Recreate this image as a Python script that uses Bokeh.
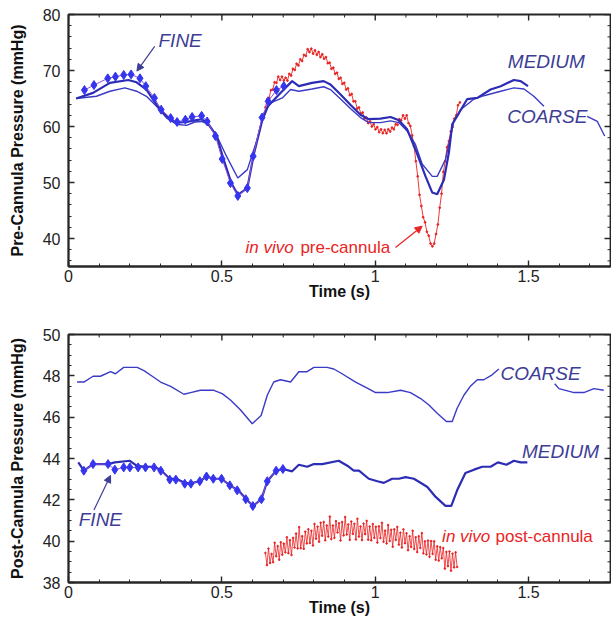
import numpy as np
from bokeh.plotting import figure
from bokeh.layouts import column
from bokeh.models import Range1d, FixedTicker, Label, Arrow, NormalHead
from bokeh.embed import file_html
from bokeh.resources import INLINE

nan = float("nan")

# ---------------- data: top panel (pre-cannula) ----------------
top_fine_t = [0.052, 0.083, 0.128, 0.153, 0.180, 0.204, 0.233, 0.252, 0.280, 0.302, 0.333, 0.354, 0.381,
              0.403, 0.434, 0.452, 0.479, 0.501, 0.528, 0.552, 0.583, 0.602, 0.631, 0.651, 0.678, 0.702]
top_fine_p = [66.5, 67.4, 68.6, 68.9, 69.2, 69.3, 68.6, 67.2, 65.1, 63.0, 61.5, 60.8, 61.2,
              61.7, 61.9, 60.9, 58.3, 54.2, 49.9, 47.6, 49.0, 54.7, 61.6, 64.5, 66.5, 67.2]

top_medium_t = [0.025, 0.080, 0.135, 0.195, 0.222, 0.254, 0.287, 0.320, 0.352, 0.385, 0.412, 0.434, 0.455,
                0.483, 0.504, 0.531, 0.552, 0.583, 0.604, 0.631, 0.650, 0.691, 0.729, 0.751, 0.794, 0.832,
                0.854, 0.887, 0.919, 0.952, 0.979, 1.017, 1.050, 1.077, 1.104, 1.131, 1.164, 1.186, 1.202,
                1.224, 1.240, 1.251, 1.273, 1.300, 1.333, 1.376, 1.409, 1.452, 1.474, 1.498]
top_medium_p = [65.0, 66.0, 67.8, 68.3, 67.9, 66.6, 63.9, 61.8, 60.7, 60.8, 61.1, 61.3, 60.5,
                58.3, 54.4, 49.9, 47.8, 49.0, 55.0, 61.0, 63.6, 66.0, 68.1, 67.2, 67.8, 68.1,
                67.5, 65.7, 63.9, 62.1, 61.3, 61.4, 61.7, 61.1, 59.5, 55.9, 51.1, 48.2, 47.9,
                50.5, 55.3, 60.4, 62.4, 64.9, 65.1, 66.6, 67.2, 68.3, 68.1, 67.2]

top_coarse_t = [0.025, 0.091, 0.135, 0.184, 0.222, 0.254, 0.287, 0.320, 0.352, 0.385, 0.412, 0.434, 0.455,
                0.483, 0.515, 0.552, 0.583, 0.615, 0.637, 0.659, 0.697, 0.724, 0.751, 0.794, 0.832, 0.854,
                0.887, 0.919, 0.952, 0.979, 1.017, 1.050, 1.077, 1.104, 1.131, 1.153, 1.186, 1.202, 1.229,
                1.246, 1.256, 1.278, 1.322, 1.354, 1.409, 1.452, 1.485, 1.517, 1.550, nan, 1.691, 1.724, 1.748]
top_coarse_p = [65.0, 65.4, 66.3, 66.9, 66.3, 65.4, 63.6, 61.5, 60.4, 60.2, 60.8, 60.9, 60.4,
                58.4, 54.7, 50.8, 52.3, 57.7, 62.4, 64.2, 65.1, 66.6, 66.3, 66.7, 67.1, 66.6,
                64.9, 63.2, 61.6, 60.7, 60.7, 61.0, 60.7, 59.2, 56.8, 53.3, 51.1, 51.1, 54.1,
                58.3, 60.9, 63.0, 64.9, 65.5, 66.3, 66.9, 66.7, 65.4, 63.6, nan, 61.8, 60.9, 58.3]

top_vivo_start, top_vivo_end = 0.642, 1.276
top_vivo_p = [63.4, 64.9, 65.1, 66.5, 66.6, 67.9, 67.8, 68.9, 68.3, 68.9, 68.2, 68.7, 68.2, 69.4, 69.1,
              70.3, 70.1, 71.2, 70.9, 72.0, 71.7, 72.8, 72.6, 73.8, 73.3, 73.9, 73.0, 73.6, 72.8, 73.3,
              72.4, 72.9, 72.1, 72.4, 71.3, 71.4, 70.3, 70.5, 69.4, 69.6, 68.5, 68.7, 67.6, 67.8, 66.6,
              66.8, 65.6, 65.8, 64.5, 64.5, 63.2, 63.4, 62.3, 62.5, 61.4, 61.6, 60.6, 60.9, 60.0, 60.4,
              59.5, 59.9, 59.0, 59.5, 58.8, 59.4, 58.8, 59.5, 59.1, 59.8, 59.5, 60.4, 60.3, 61.3, 61.1,
              62.0, 61.4, 62.0, 60.6, 60.1, 58.4, 56.5, 53.8, 51.1, 47.8, 45.8, 43.8, 42.9, 41.2, 40.5,
              39.1, 38.6, 39.1, 40.8, 42.5, 45.5, 48.0, 51.9, 53.8, 56.3, 57.4, 59.1, 59.9, 61.4, 62.0,
              63.8, 64.3]

# ---------------- data: bottom panel (post-cannula) ----------------
bot_fine_t = [0.050, 0.080, 0.129, 0.151, 0.180, 0.200, 0.227, 0.251, 0.279, 0.301, 0.330, 0.350, 0.379,
              0.399, 0.428, 0.450, 0.472, 0.499, 0.526, 0.550, 0.578, 0.601, 0.629, 0.648, 0.677, 0.699]
bot_fine_p = [43.41, 43.73, 43.73, 43.46, 43.57, 43.57, 43.57, 43.57, 43.57, 43.41, 42.98, 42.98, 42.78,
              42.78, 42.90, 43.13, 43.02, 43.02, 42.70, 42.46, 42.03, 41.70, 42.03, 42.90, 43.41, 43.49]

bot_medium_t = [0.032, 0.050, 0.080, 0.129, 0.151, 0.200, 0.222, 0.254, 0.281, 0.303, 0.330, 0.352, 0.379,
                0.401, 0.428, 0.450, 0.472, 0.499, 0.526, 0.553, 0.580, 0.601, 0.629, 0.648, 0.677, 0.699,
                0.729, 0.751, 0.778, 0.800, 0.827, 0.881, 0.909, 0.930, 0.947, 0.979, 1.007, 1.028, 1.055,
                1.077, 1.099, 1.126, 1.153, 1.170, 1.197, 1.229, 1.248, 1.267, 1.294, 1.322, 1.349, 1.376,
                1.400, 1.428, 1.452, 1.474, 1.496]
bot_medium_p = [43.81, 43.41, 43.73, 43.73, 43.81, 43.89, 43.65, 43.60, 43.60, 43.41, 43.02, 43.02, 42.81,
                42.81, 42.90, 43.13, 43.02, 43.02, 42.70, 42.46, 42.03, 41.70, 42.03, 42.90, 43.41, 43.49,
                43.38, 43.70, 43.60, 43.73, 43.73, 43.89, 43.65, 43.41, 43.41, 43.02, 42.90, 42.82, 43.02,
                43.02, 43.10, 43.02, 42.78, 42.62, 42.14, 41.71, 41.71, 42.46, 43.30, 43.46, 43.60, 43.60,
                43.81, 43.70, 43.89, 43.81, 43.81]

bot_coarse_t = [0.028, 0.050, 0.080, 0.104, 0.137, 0.153, 0.180, 0.224, 0.246, 0.273, 0.300, 0.333, 0.376,
                0.398, 0.430, 0.474, 0.501, 0.528, 0.561, 0.599, 0.628, 0.648, 0.669, 0.691, 0.724, 0.751,
                0.778, 0.800, 0.843, 0.865, 0.892, 0.936, 0.974, 1.001, 1.039, 1.083, 1.115, 1.148, 1.175,
                1.202, 1.232, 1.251, 1.267, 1.289, 1.311, 1.333, 1.354, 1.381, 1.403, nan, 1.585, 1.599,
                1.648, 1.680, 1.713, 1.745]
bot_coarse_p = [47.70, 47.70, 47.98, 47.98, 48.20, 48.10, 48.41, 48.41, 48.25, 47.98, 47.70, 47.49, 47.11,
                47.19, 47.30, 47.30, 47.14, 46.83, 46.35, 45.68, 46.08, 47.06, 47.70, 47.81, 47.70, 48.20,
                48.20, 48.41, 48.41, 48.33, 48.10, 47.70, 47.41, 47.19, 47.19, 47.30, 47.19, 46.90, 46.59,
                46.19, 45.79, 45.79, 46.43, 47.06, 47.51, 47.81, 47.81, 48.05, 48.33, nan, 47.62, 47.38,
                47.19, 47.19, 47.38, 47.30]

bot_vivo_start, bot_vivo_end = 0.642, 1.267
bot_vivo_p = [39.43, 38.84, 39.64, 38.94, 39.38, 38.98, 39.92, 39.27, 39.76, 39.10, 39.95, 39.34, 39.88,
              39.46, 40.19, 39.42, 40.05, 39.33, 40.16, 39.69, 40.37, 39.65, 40.68, 39.66, 40.24, 39.63,
              40.46, 39.89, 40.58, 39.91, 40.50, 39.79, 40.83, 40.12, 40.70, 39.97, 40.89, 40.26, 40.93,
              40.04, 40.76, 40.22, 41.19, 40.10, 40.76, 40.16, 40.97, 40.42, 40.87, 40.03, 40.93, 40.28,
              41.17, 40.32, 40.81, 40.06, 40.95, 40.35, 40.84, 40.08, 41.08, 40.22, 40.71, 40.05, 40.85,
              40.34, 40.98, 40.07, 40.71, 40.04, 40.83, 40.16, 40.70, 39.93, 40.72, 40.15, 40.89, 39.97,
              40.51, 39.89, 40.78, 40.01, 40.55, 39.73, 40.57, 40.06, 40.69, 39.83, 40.41, 39.69, 40.57,
              39.90, 40.38, 39.56, 40.24, 39.72, 40.50, 39.62, 40.19, 39.47, 40.24, 39.67, 40.39, 39.41,
              39.99, 39.36, 40.03, 39.24, 40.01, 39.38, 39.99, 39.10, 39.75, 39.06, 39.71, 39.17, 39.67,
              38.67, 39.48, 38.79, 39.50, 38.57, 39.39, 38.73, 39.46, 38.75]

x_major = [0, 0.5, 1, 1.5]
x_minor = [0.1, 0.2, 0.3, 0.4, 0.6, 0.7, 0.8, 0.9, 1.1, 1.2, 1.3, 1.4, 1.6, 1.7]
x_labels = {0: "0", 0.5: "0.5", 1: "1", 1.5: "1.5"}
top_y_major = [40, 50, 60, 70, 80]
top_y_minor = [36, 38, 42, 44, 46, 48, 52, 54, 56, 58, 62, 64, 66, 68, 72, 74, 76, 78]
bot_y_major = [38, 40, 42, 44, 46, 48, 50]
bot_y_minor = [38.5, 39, 39.5, 40.5, 41, 41.5, 42.5, 43, 43.5, 44.5, 45, 45.5, 46.5, 47, 47.5,
               48.5, 49, 49.5]

# ---------------- styling ----------------
FONT = "Liberation Sans"
C_LABEL = "#3d3d96"
C_MED = "#2c2cb4"
C_COARSE = "#3a3ac6"
C_FINE_M = "#3535f0"
C_FINE_L = "#9050d8"
C_RED = "#ea2323"
AX = "#262626"
X_END = 1.767


def style_axis(ax):
    ax.axis_line_color = AX
    ax.axis_line_width = 1.8
    ax.major_tick_in = 6
    ax.major_tick_out = 0
    ax.minor_tick_in = 3
    ax.minor_tick_out = 0
    ax.major_tick_line_color = AX
    ax.major_tick_line_width = 1.4
    ax.minor_tick_line_color = AX
    ax.minor_tick_line_width = 1
    ax.major_label_text_font = FONT
    ax.major_label_text_font_size = "16px"
    ax.major_label_text_color = "#222222"
    ax.axis_label_text_font = FONT
    ax.axis_label_text_font_size = "16px"
    ax.axis_label_text_font_style = "bold"
    ax.axis_label_text_color = "#111111"


def make_fig(y0, y1, y_major, y_minor, ylabel, height, top_border, bottom_border):
    p = figure(width=611, height=height,
               x_range=Range1d(0, X_END), y_range=Range1d(y0, y1),
               output_backend="svg", toolbar_location=None,
               min_border_left=68, min_border_right=1,
               min_border_top=top_border, min_border_bottom=bottom_border)
    p.grid.visible = False
    p.outline_line_color = AX
    p.outline_line_width = 1.8
    p.background_fill_color = "white"

    xb = p.xaxis[0]
    xb.ticker = FixedTicker(ticks=x_major, minor_ticks=x_minor)
    xb.major_label_overrides = x_labels
    xb.axis_label = "Time (s)"
    xb.major_label_standoff = 3
    xb.axis_label_standoff = -2
    style_axis(xb)

    yl = p.yaxis[0]
    yl.ticker = FixedTicker(ticks=y_major, minor_ticks=y_minor)
    yl.axis_label = ylabel
    yl.major_label_standoff = 8
    yl.axis_label_standoff = 14
    style_axis(yl)

    # mirrored inward ticks on the top and right edges (clipped to the frame)
    p.scatter(x_major, [y1] * len(x_major), marker="dash", angle=np.pi / 2, size=12,
              line_color=AX, line_width=1.4)
    p.scatter(x_minor, [y1] * len(x_minor), marker="dash", angle=np.pi / 2, size=6,
              line_color=AX, line_width=1)
    p.scatter([X_END] * len(y_major), y_major, marker="dash", size=12, line_color=AX, line_width=1.4)
    p.scatter([X_END] * len(y_minor), y_minor, marker="dash", size=6, line_color=AX, line_width=1)
    return p


def add_label(p, x, y, text, color, size, style, align="center"):
    p.add_layout(Label(x=x, y=y, text=text, text_color=color, text_font=FONT,
                       text_font_size=size, text_font_style=style,
                       text_align=align, text_baseline="middle"))


# ---------------- top panel ----------------
p1 = make_fig(35, 80, top_y_major, top_y_minor, "Pre-Cannula Pressure (mmHg)", 304, 14, 38)

t_top_vivo = np.linspace(top_vivo_start, top_vivo_end, len(top_vivo_p))
p1.line(t_top_vivo, top_vivo_p, line_color=C_RED, line_width=0.9)
p1.scatter(t_top_vivo, top_vivo_p, marker="circle", size=1.8, fill_color=C_RED, line_color=C_RED)
p1.line(top_coarse_t, top_coarse_p, line_color=C_COARSE, line_width=1.4)
p1.line(top_medium_t, top_medium_p, line_color=C_MED, line_width=2.2)
p1.line(top_fine_t, top_fine_p, line_color=C_FINE_L, line_width=1)
p1.scatter(top_fine_t, top_fine_p, marker="diamond", size=9, fill_color=C_FINE_M, line_color=C_FINE_M)

add_label(p1, 0.364, 75.4, "FINE", C_LABEL, "19px", "italic")
add_label(p1, 1.558, 71.6, "MEDIUM", C_LABEL, "19px", "italic")
add_label(p1, 1.561, 61.8, "COARSE", C_LABEL, "19px", "italic")
add_label(p1, 0.577, 38.4, "in vivo", C_RED, "17px", "italic", "left")
add_label(p1, 0.756, 38.4, "pre-cannula", C_RED, "17px", "normal", "left")
p1.add_layout(Arrow(x_start=0.281, y_start=74.3, x_end=0.223, y_end=69.9,
                    line_color=C_LABEL, line_width=1.2,
                    end=NormalHead(size=7, fill_color=C_LABEL, line_color=C_LABEL)))
p1.add_layout(Arrow(x_start=1.066, y_start=38.4, x_end=1.153, y_end=42.2,
                    line_color=C_RED, line_width=1.2,
                    end=NormalHead(size=7, fill_color=C_RED, line_color=C_RED)))

# ---------------- bottom panel ----------------
p2 = make_fig(38, 50, bot_y_major, bot_y_minor, "Post-Cannula Pressure (mmHg)", 314, 30, 32)

t_bot_vivo = np.linspace(bot_vivo_start, bot_vivo_end, len(bot_vivo_p))
p2.line(t_bot_vivo, bot_vivo_p, line_color=C_RED, line_width=0.8)
p2.scatter(t_bot_vivo, bot_vivo_p, marker="circle", size=1.6, fill_color=C_RED, line_color=C_RED)
p2.line(bot_coarse_t, bot_coarse_p, line_color=C_COARSE, line_width=1.4)
p2.line(bot_medium_t, bot_medium_p, line_color=C_MED, line_width=2.2)
p2.line(bot_fine_t, bot_fine_p, line_color=C_FINE_L, line_width=1)
p2.scatter(bot_fine_t, bot_fine_p, marker="diamond", size=9, fill_color=C_FINE_M, line_color=C_FINE_M)

add_label(p2, 0.104, 41.07, "FINE", C_LABEL, "19px", "italic")
add_label(p2, 1.604, 44.33, "MEDIUM", C_LABEL, "19px", "italic")
add_label(p2, 1.539, 48.12, "COARSE", C_LABEL, "19px", "italic")
add_label(p2, 1.218, 40.24, "in vivo", C_RED, "17px", "italic", "left")
add_label(p2, 1.392, 40.24, "post-cannula", C_RED, "17px", "normal", "left")
p2.add_layout(Arrow(x_start=0.083, y_start=41.51, x_end=0.137, y_end=43.18,
                    line_color=C_LABEL, line_width=1.2,
                    end=NormalHead(size=7, fill_color=C_LABEL, line_color=C_LABEL)))

layout = column(p1, p2, spacing=0)
open("out.html", "w").write(file_html(layout, INLINE))
